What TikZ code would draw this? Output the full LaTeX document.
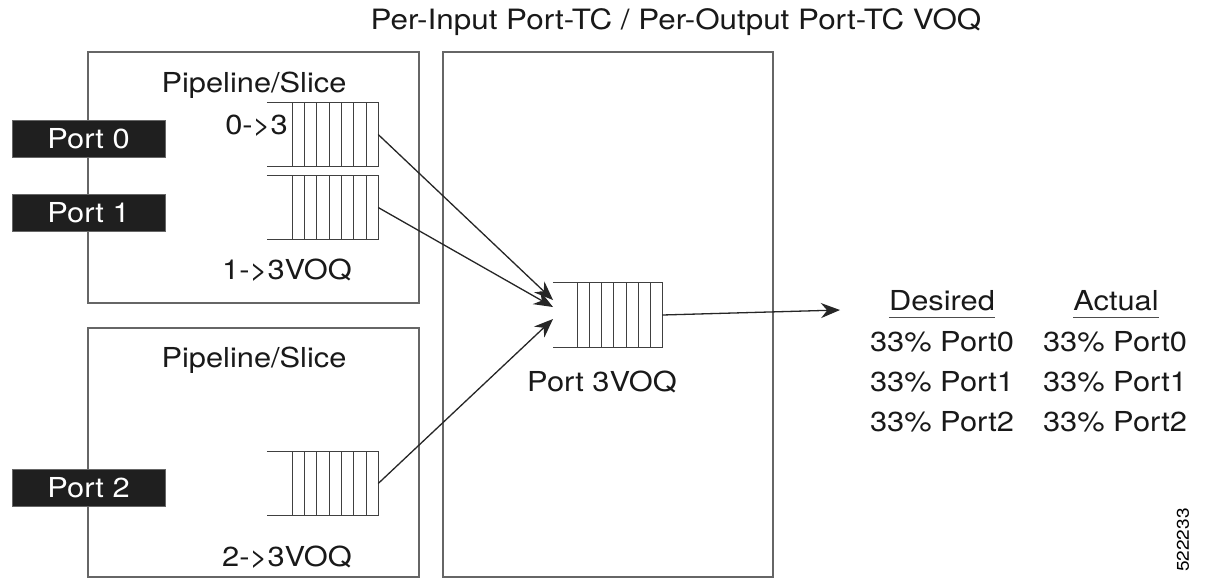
\documentclass[tikz,border=0pt]{standalone}
\usepackage{fontspec}
\setmainfont{TeX Gyre Heros}[FakeStretch=1.12]
\usetikzlibrary{arrows.meta,calc}
\begin{document}
\begin{tikzpicture}[x=1pt,y=-1pt,
  txt/.style={inner sep=0pt,font=\fontsize{27.5}{31}\selectfont,text=black!90},
  frame/.style={draw=black!60,line width=1.3pt},
  portbox/.style={fill=black!88,draw=black!60,line width=0.6pt,text=white,inner sep=0pt,
     minimum width=153pt,minimum height=37pt,font=\fontsize{27.5}{31}\selectfont},
  qbox/.style={draw=none,inner sep=0pt,minimum width=111pt,minimum height=63pt},
  qline/.style={draw=black!75,line width=0.8pt},
  conn/.style={draw=black!85,line width=1.3pt,-{Stealth[length=19pt,width=15pt]}}]
\useasboundingbox (0,0) rectangle (1206,579);
\fill[white] (0,0) rectangle (1206,579);
% frames
\node[frame,inner sep=0pt,minimum width=331pt,minimum height=251pt] (slice1) at (253.5,177.5) {};
\node[frame,inner sep=0pt,minimum width=331pt,minimum height=249pt] (slice2) at (253.5,452.5) {};
\node[frame,inner sep=0pt,minimum width=330pt,minimum height=525pt] (fabric) at (608,314.5) {};
% title
\node[txt,font=\fontsize{28}{32}\selectfont] (title) at (676,22) {Per-Input Port-TC / Per-Output Port-TC VOQ};
\node[txt] (pl1) at (254,85) {Pipeline/Slice};
\node[txt] (pl2) at (254,360) {Pipeline/Slice};
% ports
\node[portbox] (p0) at (88.5,138.5) {Port 0};
\node[portbox] (p1) at (88.5,212.5) {Port 1};
\node[portbox] (p2) at (88.5,487.5) {Port 2};
% queues
\node[qbox] (q0) at (322.5,134.5) {};
\node[qbox] (q1) at (322.5,207.5) {};
\node[qbox] (q2) at (322.5,483.5) {};
\node[qbox,minimum width=109pt,minimum height=64pt] (q3) at (607.5,315) {};
\foreach \q/\s in {q0/12.3,q1/12.3,q2/12.3,q3/12.1}{
  \draw[qline] (\q.north west) -- (\q.north east) -- (\q.south east) -- (\q.south west);
  \foreach \k in {1,...,7}{
    \draw[qline] ($(\q.north east)+(-\k*\s,0)$) -- ($(\q.south east)+(-\k*\s,0)$);
  }
}
\node[txt,anchor=east] (l0) at (288,126) {0->3};
\node[txt] (l1) at (287,270) {1->3VOQ};
\node[txt] (l2) at (287,557) {2->3VOQ};
\node[txt] (l3) at (602,382) {Port 3VOQ};
% connectors
\coordinate (t0) at (553,300);
\coordinate (t1) at (553,307);
\coordinate (t2) at (553,319);
\coordinate (out) at (840,310);
\draw[conn] (q0.east) -- (t0);
\draw[conn] (q1.east) -- (t1);
\draw[conn] (q2.east) -- (t2);
\draw[conn] (q3.east) -- (out);
% results
\node[txt] (des) at (942,301) {Desired};
\node[txt] (act) at (1116,301) {Actual};
\draw[black!70,line width=1.3pt] ($(des.south west)+(0,6)$) -- ($(des.south east)+(0,6)$);
\draw[black!70,line width=1.3pt] ($(act.south west)+(0,6)$) -- ($(act.south east)+(0,6)$);
\node[txt] (d0) at (942,342) {33\% Port0};
\node[txt] (d1) at (942,382) {33\% Port1};
\node[txt] (d2) at (942,422) {33\% Port2};
\node[txt] (a0) at (1115,342) {33\% Port0};
\node[txt] (a1) at (1115,382) {33\% Port1};
\node[txt] (a2) at (1115,422) {33\% Port2};
\node[inner sep=0pt,rotate=90,font=\fontsize{17}{20}\selectfont] (id) at (1183,540) {522233};
\end{tikzpicture}
\end{document}
